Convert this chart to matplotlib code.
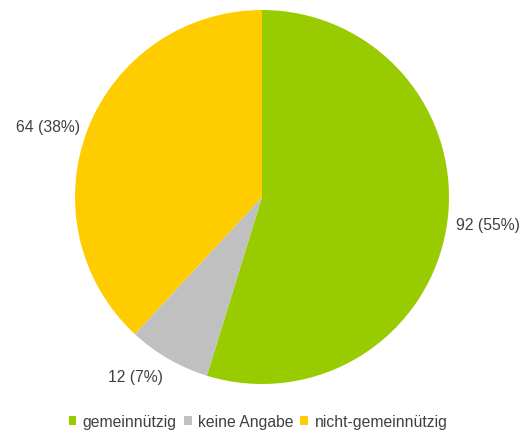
import numpy as np
import matplotlib
matplotlib.use('Agg')
import matplotlib.pyplot as plt
from matplotlib.patches import Patch

plt.rcParams['font.family'] = ['Liberation Sans', 'DejaVu Sans']

categories = ['gemeinnützig', 'keine Angabe', 'nicht-gemeinnützig']
counts = [92, 12, 64]
percents = [55, 7, 38]
colors = ['#99cc00', '#c0c0c0', '#ffcc00']
text_color = '#404040'

fig = plt.figure(figsize=(5.19, 4.32), dpi=100)
W, H = 519, 432
cx, cy, r = 262, 197, 187
ax = fig.add_axes([(cx - r) / W, (H - cy - r) / H, 2 * r / W, 2 * r / H])

wedges, _ = ax.pie(counts, colors=colors, startangle=90, counterclock=False,
                   radius=1.0, wedgeprops=dict(linewidth=0))
ax.set_aspect('equal')
ax.set_xlim(-1, 1)
ax.set_ylim(-1, 1)

# label placement (Excel-like)
label_pos = [(1.04, -0.15, 'left'), (-0.529, -0.963, 'right'), (-0.973, 0.374, 'right')]
for n, p, (x, y, ha) in zip(counts, percents, label_pos):
    ax.text(x, y, f'{n} ({p}%)', ha=ha, va='center', fontsize=11.3,
            color=text_color, clip_on=False)

handles = [Patch(facecolor=c, edgecolor='none') for c in colors]
fig.legend(handles, categories, loc='center', bbox_to_anchor=(0.497, (H - 422) / H),
           ncol=3, frameon=False, fontsize=11.3, handlelength=0.5, handleheight=0.5,
           handletextpad=0.4, columnspacing=0.45, labelcolor=text_color)

fig.savefig('out.png', dpi=100)
